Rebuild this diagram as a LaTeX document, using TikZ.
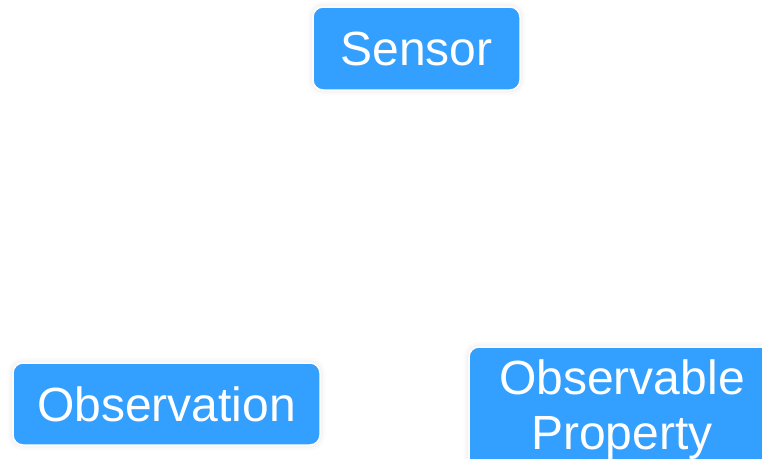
\documentclass[tikz,border=0pt]{standalone}
\usepackage{fontspec}
\setmainfont{Liberation Sans}
\usetikzlibrary{shadows.blur}
\definecolor{nodeblue}{RGB}{51,159,255}

\begin{document}
\begin{tikzpicture}[x=1pt,y=1pt,
    concept/.style={draw=white,line width=1.5pt,fill=nodeblue,rounded corners=10pt,
      text=white,align=center,inner sep=0pt,
      font=\fontsize{48}{55}\selectfont,
      blur shadow={shadow xshift=0pt,shadow yshift=0pt,shadow blur radius=6pt,shadow opacity=12}}]
    % 画布
    \clip (0,0) rectangle (762,-458);

    % 三个概念
    \node[concept,minimum width=207,minimum height=83] (sensor) at (416.5,-48.5) {Sensor};
    \node[concept,minimum width=307,minimum height=82] (observation) at (166.5,-404) {Observation};
    \node[concept,minimum width=306,minimum height=126] (property) at (622,-410) {Observable\\Property};
\end{tikzpicture}
\end{document}
